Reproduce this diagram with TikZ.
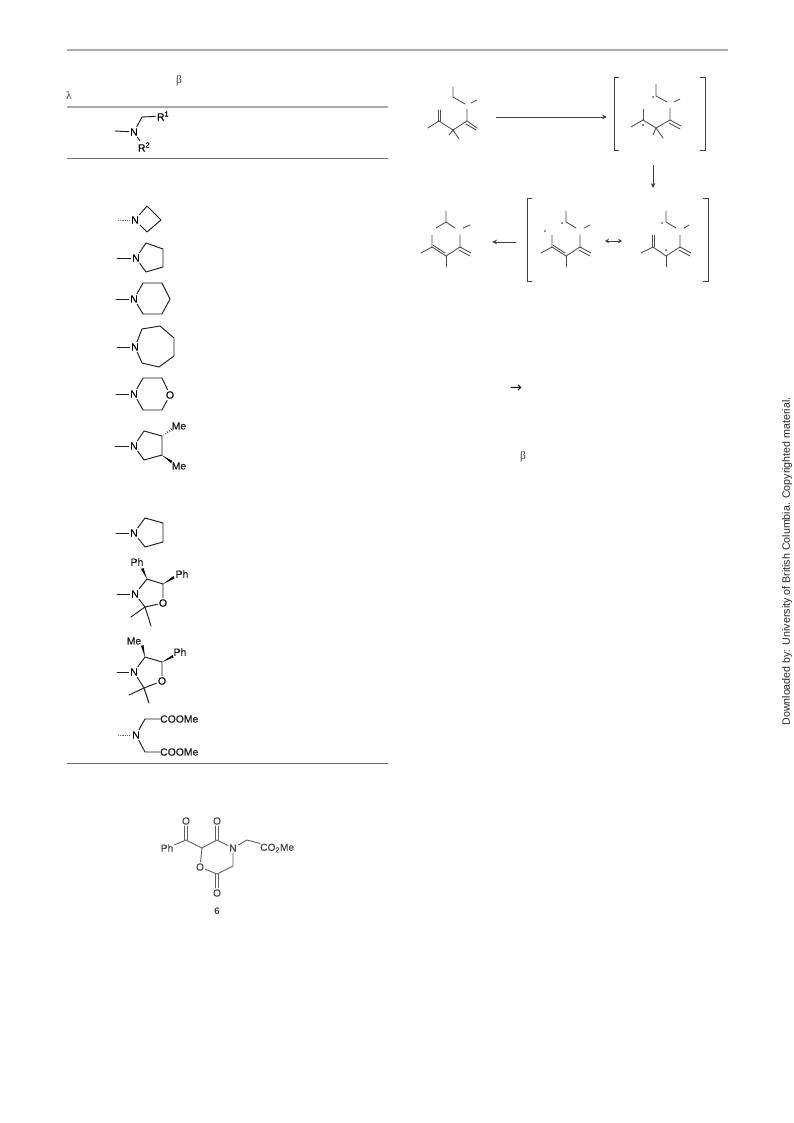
\documentclass[tikz,border=0pt]{standalone}
\usepackage{fontspec}
\setmainfont{Liberation Sans}
\newfontfamily\symfont{Liberation Serif}
\newfontfamily\arrowfont{DejaVu Sans}
\newfontfamily\chemfont[FakeBold=0.25]{Liberation Sans}
\usetikzlibrary{arrows.meta}
\tikzset{
  x=1pt,y=-1pt,
  bond/.style={line width=0.95pt,black!88,line cap=round,line join=round},
  faint/.style={line width=0.8pt,black!60,dash pattern=on 1pt off 0.8pt},
  atom/.style={font=\chemfont\fontsize{10.5}{10}\selectfont,inner sep=1.4pt,text=black},
  lab/.style={font=\chemfont\fontsize{10.4}{10}\selectfont,inner sep=0.8pt,text=black!90},
  wedge/.style={fill=black,draw=none},
  bluramt/.style={line width=0.9pt,black!62,line cap=round},
  blurlab/.style={font=\chemfont\fontsize{10.2}{10}\selectfont,inner sep=1.2pt,text=black!72},
  rulethick/.style={line width=1.7pt,black!33},
  rulethin/.style={line width=0.9pt,black!58},
  schem/.style={line width=0.85pt,black!70,line cap=round},
  radical/.style={circle,fill=black!85,inner sep=0pt,minimum size=1.8pt},
  bracket/.style={line width=1pt,black!75},
  rxn/.style={line width=0.8pt,black!75,-{Stealth[length=5pt,width=4.5pt]}},
  glyph/.style={font=\symfont\fontsize{11.5}{11}\selectfont,inner sep=0pt,text=black!75},
}
\begin{document}
\begin{tikzpicture}
\useasboundingbox[fill=white] (0,0) rectangle (793,1123);
% rules
\draw[rulethick] (67,50) -- (728,50);
\draw[rulethick] (67,107) -- (388,107);
\draw[rulethin] (67,158) -- (388,158);
\draw[rulethin] (67,763) -- (388,763);
\node[glyph] (beta1) at (179,81) {β};
\node[glyph] (lambda1) at (69,95) {λ};
\node[glyph] (beta2) at (523,457) {β};
\node[inner sep=0pt,font=\arrowfont\fontsize{14.5}{14}\selectfont,text=black!90] (to1) at (516,388.5) {→};
\node[rotate=90,font=\fontsize{10.67}{11}\selectfont,text=black!85,inner sep=0] (dl) at (787,561.5) {Downloaded by: University of British Columbia. Copyrighted material.};
% header fragment
\node[atom] (Nh) at (134,132) {N};
\node[atom] (R1) at (163,116) {R\textsuperscript{1}};
\node[atom] (R2) at (144,147) {R\textsuperscript{2}};
\draw[bond] (115,131) -- (Nh);
\draw[bond] (Nh) -- (142,117) -- (R1);
\draw[bond] (Nh) -- (R2);
% azetidine
\node[atom] (Na) at (135,220) {N};
\draw[faint] (118,220) -- (Na);
\draw[bond] (Na) -- (147,206) -- (161,220) -- (147,232) -- (Na);
% pyrrolidine
\node[atom] (Nb) at (136,258) {N};
\draw[bond] (117,258) -- (Nb);
\draw[bond] (Nb) -- (146,243) -- (163,249) -- (163,267) -- (146,272) -- (Nb);
% piperidine
\node[atom] (Nc) at (134,299) {N};
\draw[bond] (116,299) -- (Nc);
\draw[bond] (Nc) -- (143,283) -- (162,283) -- (170,299) -- (162,314) -- (143,314) -- (Nc);
% azepane
\node[atom] (Nd) at (135,347) {N};
\draw[bond] (117,347) -- (Nd);
\draw[bond] (Nd) -- (142,329) -- (160,326) -- (174,338) -- (174,356) -- (159,367) -- (142,363) -- (Nd);
% morpholine
\node[atom] (Ne) at (134,394) {N};
\node[atom] (Oe) at (170,395) {O};
\draw[bond] (116,394) -- (Ne);
\draw[bond] (Ne) -- (143,378) -- (162,378) -- (Oe);
\draw[bond] (Oe) -- (162,410) -- (143,410) -- (Ne);
% dimethylpyrrolidine
\node[atom] (Nf) at (134,446) {N};
\node[lab] (Mef1) at (179,426) {Me};
\node[lab] (Mef2) at (179,466) {Me};
\draw[bond] (115,446) -- (Nf);
\draw[bond] (Nf) -- (144,431) -- (162,436) -- (162,455) -- (144,460) -- (Nf);
\foreach \t/\h in {0.15/0.3,0.35/0.7,0.55/1.0,0.75/1.3,0.95/1.6}
  \draw[line width=0.55pt,black!85] ({162+10*\t+0.57*\h},{436-7*\t+0.82*\h}) -- ({162+10*\t-0.57*\h},{436-7*\t-0.82*\h});
\fill[wedge] (161.7,455) -- (172.5,461) -- (171,463) -- cycle;
% pyrrolidine 2
\node[atom] (Ng) at (134,533) {N};
\draw[bond] (116,533) -- (Ng);
\draw[bond] (Ng) -- (145,518) -- (163,523) -- (163,542) -- (145,547) -- (Ng);
% oxazolidine 1
\node[atom] (Nh1) at (135,594) {N};
\node[atom] (Oh1) at (163,603) {O};
\node[lab] (Ph1) at (137,562) {Ph};
\node[lab] (Ph2) at (182,574) {Ph};
\draw[bond] (117,594) -- (Nh1);
\draw[bond] (Nh1) -- (147,579) -- (163,584) -- (Oh1);
\draw[bond] (Oh1) -- (145,607) -- (Nh1);
\draw[bond] (131,617) -- (145,607) -- (151,626);
\fill[wedge] (147,579) -- (143.5,568) -- (141,569) -- cycle;
\fill[wedge] (163,584) -- (173.5,576) -- (174.5,578.5) -- cycle;
% oxazolidine 2
\node[atom] (Ni) at (134,672) {N};
\node[atom] (Oi) at (162,681) {O};
\node[lab] (Mei) at (134,641) {Me};
\node[lab] (Phi) at (180,652) {Ph};
\draw[bond] (117,672) -- (Ni);
\draw[bond] (Ni) -- (145,657) -- (162,662) -- (Oi);
\draw[bond] (Oi) -- (144,688) -- (Ni);
\draw[bond] (129,695) -- (144,688) -- (149,703);
\fill[wedge] (145,657) -- (143.5,645) -- (141,646) -- cycle;
\fill[wedge] (162,662) -- (172.5,655) -- (173.5,657.5) -- cycle;
% iminodiacetate
\node[atom] (Nj) at (136,735) {N};
\node[lab,anchor=west,inner sep=0pt] (COa) at (160,719) {COOMe};
\node[lab,anchor=west,inner sep=0pt] (COb) at (160,752) {COOMe};
\draw[faint] (118,735) -- (Nj);
\draw[bond] (Nj) -- (145,719) -- (COa);
\draw[bond] (Nj) -- (145,752) -- (COb);
% compound 6
\node[blurlab] (Ph6) at (167,848) {Ph};
\node[blurlab] (O61) at (186,821) {O};
\node[blurlab] (O62) at (217,821) {O};
\node[blurlab] (N6) at (233,848) {N};
\node[blurlab] (O63) at (200,867) {O};
\node[blurlab] (O64) at (217,893) {O};
\node[blurlab,anchor=west,inner sep=0pt] (CO6) at (260,848) {CO\textsubscript{2}Me};
\node[font=\bfseries\fontsize{9.5}{9}\selectfont,inner sep=0,text=black!75] (six) at (217,911) {6};
\draw[bluramt] (Ph6) -- (186,840) -- (202,848) -- (217,840) -- (N6);
\draw[bluramt] (N6) -- (233,866) -- (217,874) -- (O63) -- (202,848);
\draw[bluramt] (N6) -- (247,840) -- (CO6);
\draw[bluramt] (184.7,840) -- (O61.south -| 184.7,0);
\draw[bluramt] (187.3,840) -- (O61.south -| 187.3,0);
\draw[bluramt] (215.7,840) -- (O62.south -| 215.7,0);
\draw[bluramt] (218.3,840) -- (O62.south -| 218.3,0);
\draw[bluramt] (215.7,874) -- (O64.north -| 215.7,0);
\draw[bluramt] (218.3,874) -- (O64.north -| 218.3,0);
% scheme: structure 1
\draw[schem] (453,87) -- (453,97) -- (465,104);
\draw[schem] (471,103) -- (477,100);
\draw[schem] (467,109) -- (467,121) -- (453,130) -- (439,121) -- (428,128);
\draw[schem] (467,121) -- (477,128);
\draw[schem] (466,124) -- (476,130);
\draw[schem] (438,110) -- (438,121);
\draw[schem] (440.5,110) -- (440.5,121);
\draw[schem] (449,135) -- (453,130) -- (459,139);
\draw[rxn] (496,117) -- (607,117);
% bracket 1
\draw[bracket] (619,78) -- (614,78) -- (614,151) -- (619,151);
\draw[bracket] (700,78) -- (705,78) -- (705,151) -- (700,151);
% structure 2
\node[radical] (r1) at (653,97) {};
\node[radical] (r2) at (643,125) {};
\draw[schem] (656,84) -- (656,96) -- (667,102);
\draw[schem] (674,102) -- (680,99);
\draw[schem] (670,108) -- (670,120) -- (656,128) -- (643,120) -- (631,127);
\draw[schem] (643,109) -- (643,120);
\draw[schem] (670,120) -- (681,126);
\draw[schem] (669,123) -- (680,129);
\draw[schem] (653,135) -- (656,128) -- (663,138);
\draw[rxn] (653,165) -- (653,188);
% bracket 2
\draw[bracket] (532,199) -- (527,199) -- (527,281) -- (532,281);
\draw[bracket] (703,199) -- (708,199) -- (708,281) -- (703,281);
% product
\draw[schem] (446,211) -- (446,222) -- (436,228);
\draw[schem] (446,222) -- (455,228);
\draw[schem] (463,228) -- (470,225);
\draw[schem] (460,235) -- (460,247) -- (446,256);
\draw[schem] (460,247) -- (471,253);
\draw[schem] (459,250) -- (470,256);
\draw[schem] (446,256) -- (432,247);
\draw[schem] (445,253) -- (433.5,245.5);
\draw[schem] (432,235) -- (432,247) -- (421,253);
\draw[schem] (446,256) -- (446,267);
\draw[rxn] (516,242) -- (492,242);
% structure 3
\node[radical] (r3) at (562,223) {};
\node[radical] (r4) at (545,231) {};
\draw[schem] (566,211) -- (566,222) -- (576,228);
\draw[schem] (584,228) -- (590,225);
\draw[schem] (580,235) -- (580,247) -- (566,256);
\draw[schem] (580,247) -- (591,253);
\draw[schem] (579,250) -- (590,256);
\draw[schem] (566,256) -- (552,247);
\draw[schem] (565,253) -- (553.5,245.5);
\draw[schem] (552,235) -- (552,247) -- (541,253);
\draw[schem] (566,256) -- (566,267);
\draw[line width=0.8pt,black!75,{Stealth[length=4pt,width=4.5pt]}-{Stealth[length=4pt,width=4.5pt]}] (605,241) -- (622,241);
% structure 4
\node[radical] (r5) at (662,223) {};
\node[radical] (r6) at (666,250) {};
\draw[schem] (666,211) -- (666,222) -- (676,228);
\draw[schem] (684,228) -- (689,225);
\draw[schem] (680,235) -- (680,247) -- (666,256) -- (653,247) -- (641,253);
\draw[schem] (680,247) -- (691,253);
\draw[schem] (679,250) -- (690,256);
\draw[schem] (652,235) -- (652,247);
\draw[schem] (654.5,235) -- (654.5,247);
\draw[schem] (666,256) -- (666,267);
\end{tikzpicture}
\end{document}
